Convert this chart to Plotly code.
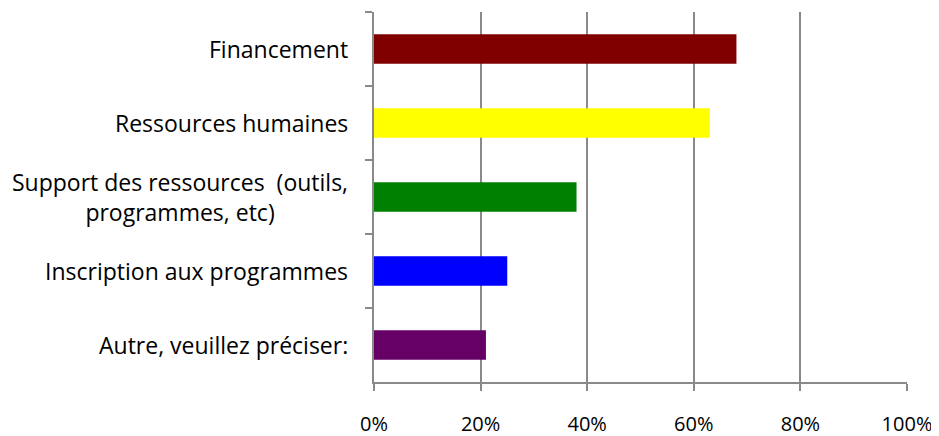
import plotly.graph_objects as go

categories = ["Financement", "Ressources humaines",
              "Support des ressources  (outils,<br>programmes, etc)",
              "Inscription aux programmes", "Autre, veuillez préciser:"]
values = [0.68, 0.63, 0.38, 0.25, 0.21]
colors = ["#800000", "#FFFF00", "#008000", "#0000FF", "#660066"]
tick_vals = [0, 0.2, 0.4, 0.6, 0.8, 1.0]
tick_text = ["0%", "20%", "40%", "60%", "80%", "100%"]

FONT = "Open Sans"
AX = "#898989"

fig = go.Figure(go.Bar(
    x=values, y=categories, orientation="h",
    marker=dict(color=colors, line=dict(width=0)),
    width=0.4,
))

for c in categories:
    fig.add_annotation(x=0, xref="paper", y=c, yref="y", text=c,
                       showarrow=False, xanchor="right", align="center",
                       xshift=-24, font=dict(family=FONT, size=23, color="#000000"))

fig.update_layout(
    width=939, height=436,
    margin=dict(l=366, r=40, t=4, b=62, autoexpand=False),
    paper_bgcolor="white", plot_bgcolor="white",
    showlegend=False,
    bargap=0.6,
    font=dict(family=FONT, size=23, color="#000000"),
)
fig.update_xaxes(range=[0, 1.0], tickvals=tick_vals, ticktext=tick_text,
                 showgrid=True, gridcolor=AX, gridwidth=1.5,
                 showline=True, linecolor=AX, linewidth=1.5,
                 ticks="outside", ticklen=7, tickcolor=AX, tickwidth=1.5,
                 tickfont=dict(family=FONT, size=20), ticklabelstandoff=16,
                 zeroline=False, fixedrange=True, automargin=False)
fig.update_yaxes(categoryorder="array", categoryarray=categories,
                 autorange="reversed", showticklabels=False,
                 tickson="boundaries", ticks="outside", ticklen=7,
                 tickcolor=AX, tickwidth=1.5,
                 showline=True, linecolor=AX, linewidth=1.5,
                 showgrid=False, zeroline=False, fixedrange=True,
                 automargin=False)

fig.write_html("out.html")
